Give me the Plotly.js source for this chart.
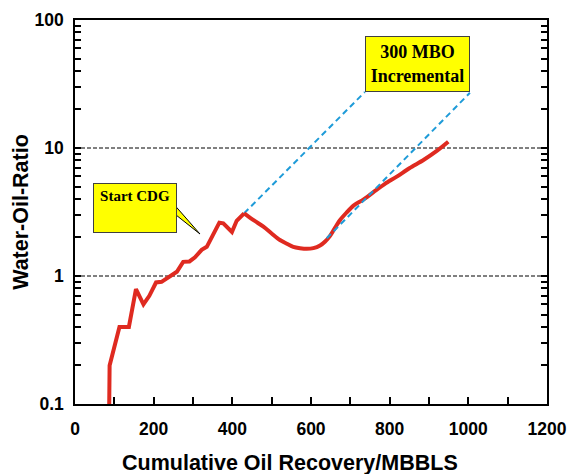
<!DOCTYPE html>
<html>
<head>
<meta charset="utf-8">
<script src="https://cdn.plot.ly/plotly-3.0.1.min.js"></script>
<style>html,body{margin:0;padding:0;background:#fff;}#chart{width:580px;height:474px;}</style>
</head>
<body>
<div id="chart"></div>
<script>
// Cumulative oil recovery (MBBLS) and water-oil ratio
var cumOil = [87, 88, 113, 137, 155, 174, 189, 206, 220, 242, 259, 275, 291, 305, 322, 335, 352, 367, 377, 399, 411, 430,
              455, 479, 500, 521, 540, 555, 572, 589, 606, 623, 636, 648, 660, 674, 690, 708, 733, 758, 788, 818, 850, 886, 918, 949];
var wor    = [0.1, 0.2, 0.40, 0.40, 0.79, 0.60, 0.70, 0.89, 0.90, 1.0, 1.08, 1.29, 1.30, 1.40, 1.60, 1.69, 2.15, 2.61, 2.58, 2.21, 2.70, 3.09,
              2.72, 2.43, 2.15, 1.91, 1.78, 1.69, 1.65, 1.63, 1.65, 1.73, 1.86, 2.05, 2.35, 2.74, 3.12, 3.55, 3.95, 4.5, 5.25, 5.97, 6.95, 8.06, 9.4, 11.2];
var cdgIndex = 21; // point where the smooth post-CDG response begins

// Incremental projection (dashed blue) lines
var incr1X = [430, 737];
var incr1Y = [3.09, 27.4];
var incr2X = [640, 1004];
var incr2Y = [1.97, 27.0];

// Axis ticks
var xTicks = [0, 100, 200, 300, 400, 500, 600, 700, 800, 900, 1000, 1100, 1200];
var xTickText = ['0', '', '200', '', '400', '', '600', '', '800', '', '1000', '', '1200'];
var yTicks = [0.1, 0.2, 0.3, 0.4, 0.5, 0.6, 0.7, 0.8, 0.9, 1, 2, 3, 4, 5, 6, 7, 8, 9, 10, 20, 30, 40, 50, 60, 70, 80, 90, 100];
var yTickText = ['0.1', '', '', '', '', '', '', '', '', '1', '', '', '', '', '', '', '', '', '10', '', '', '', '', '', '', '', '', '100'];
var yGrid = [1, 10];

var red = '#df2a20';
var blue = '#1e9bd8';
var tickFont = {family: 'Arial, Liberation Sans, sans-serif', size: 17.5, color: '#000', weight: 'bold'};
var titleFont = {family: 'Arial, Liberation Sans, sans-serif', size: 21.5, color: '#000', weight: 'bold'};

var traces = [
  {x: incr1X, y: incr1Y, type: 'scatter', mode: 'lines', line: {color: blue, width: 2, dash: '6px,4px'}, hoverinfo: 'skip'},
  {x: cumOil.slice(0, cdgIndex + 1), y: wor.slice(0, cdgIndex + 1), type: 'scatter', mode: 'lines',
   line: {color: red, width: 4, shape: 'linear'}, hoverinfo: 'skip'},
  {x: cumOil.slice(cdgIndex), y: wor.slice(cdgIndex), type: 'scatter', mode: 'lines',
   line: {color: red, width: 4, shape: 'spline', smoothing: 0.8}, hoverinfo: 'skip'},
  {x: incr2X, y: incr2Y, type: 'scatter', mode: 'lines', line: {color: blue, width: 2, dash: '6px,4px'}, hoverinfo: 'skip'}
];

var shapes = yGrid.map(function (v) {
  return {type: 'line', xref: 'paper', x0: 0, x1: 1, yref: 'y', y0: v, y1: v,
          line: {color: '#000', width: 1, dash: '4px,2px'}, layer: 'below'};
});
shapes.push({type: 'path', xref: 'paper', yref: 'paper',
  path: 'M 0.2034,0.5286 L 0.2648,0.4427 L 0.2034,0.5026 Z',
  fillcolor: '#ffff00', line: {color: '#000', width: 1}, layer: 'above'});

var layout = {
  width: 580, height: 474,
  margin: {l: 75, r: 33, t: 20, b: 70, pad: 0},
  paper_bgcolor: '#fff', plot_bgcolor: '#fff',
  showlegend: false,
  xaxis: {
    type: 'linear', range: [0, 1200], tickmode: 'array', tickvals: xTicks, ticktext: xTickText,
    ticks: 'inside', ticklen: 7, tickwidth: 2, tickcolor: 'black',
    showline: true, linecolor: 'black', linewidth: 1.5, mirror: true,
    showgrid: false, zeroline: false, tickfont: tickFont, ticklabelstandoff: 8
  },
  yaxis: {
    type: 'log', range: [-1, 2], tickmode: 'array', tickvals: yTicks, ticktext: yTickText,
    ticks: 'inside', ticklen: 6, tickwidth: 2, tickcolor: 'black',
    showline: true, linecolor: 'black', linewidth: 1.5, mirror: 'ticks',
    showgrid: false, zeroline: false, tickfont: tickFont, ticklabelstandoff: 6,
    title: {text: 'Water-Oil-Ratio', font: titleFont, standoff: 0}
  },
  shapes: shapes,
  annotations: [
    {xref: 'paper', yref: 'paper', x: 0.4555, y: -0.153, xanchor: 'center', yanchor: 'middle',
     text: 'Cumulative Oil Recovery/MBBLS', showarrow: false, font: titleFont},
    {xref: 'paper', yref: 'paper', x: 0.0381, y: 0.5755, xanchor: 'left', yanchor: 'top',
     text: 'Start CDG', showarrow: false, width: 74, height: 40, valign: 'top', align: 'center',
     bgcolor: '#ffff00', bordercolor: '#404040', borderwidth: 1, borderpad: 4,
     font: {family: 'Times New Roman, Liberation Serif, serif', size: 15, color: '#000', weight: 'bold'}},
    {xref: 'paper', yref: 'paper', x: 0.6144, y: 0.9583, xanchor: 'left', yanchor: 'top',
     text: '300 MBO<br>Incremental', showarrow: false, width: 99, height: 50, valign: 'middle', align: 'center',
     bgcolor: '#ffff00', bordercolor: '#404040', borderwidth: 1, borderpad: 2,
     font: {family: 'Times New Roman, Liberation Serif, serif', size: 18, color: '#000', weight: 'bold'}}
  ]
};

Plotly.newPlot('chart', traces, layout, {displayModeBar: false});
</script>
</body>
</html>
